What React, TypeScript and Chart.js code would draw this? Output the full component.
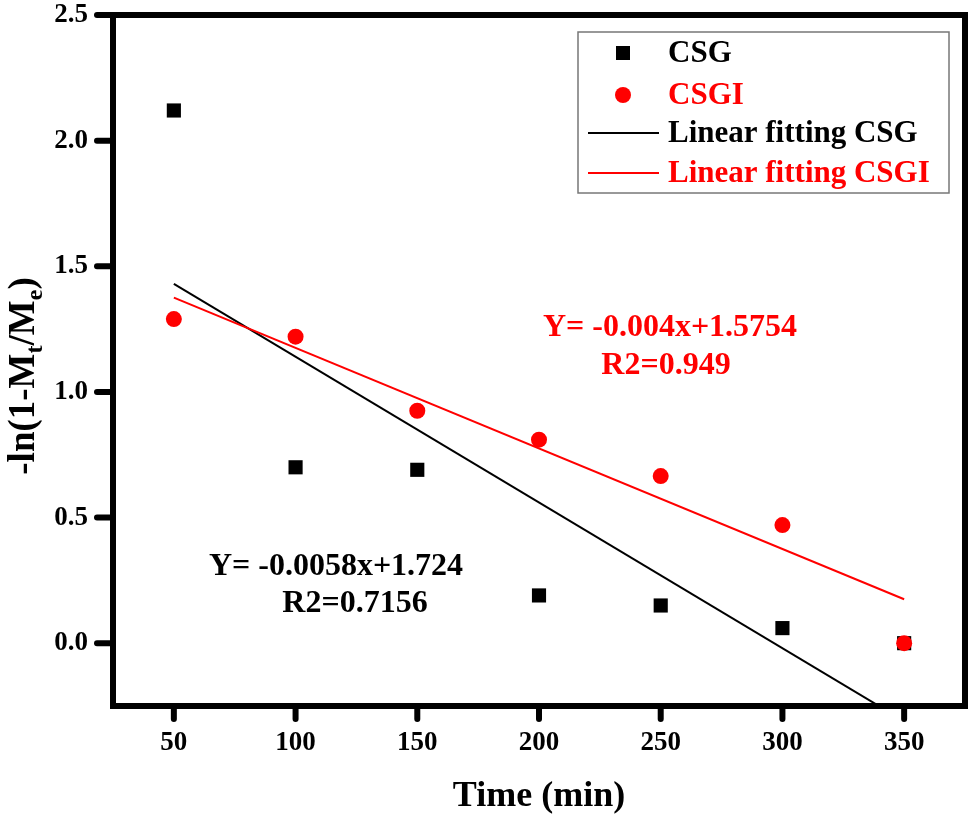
import { useEffect, useRef } from 'react';
import { Chart, registerables } from 'chart.js';

Chart.register(...registerables);

const times = [50, 100, 150, 200, 250, 300, 350];
const csg = [2.12, 0.7, 0.69, 0.19, 0.15, 0.06, 0.0];
const csgi = [1.29, 1.22, 0.925, 0.81, 0.665, 0.47, 0.0];

// fitted lines, end points
const fitTimes = [50, 350];
const fitCsg = [1.43, -0.31];
const fitCsgi = [1.375, 0.175];

const xTicks = [50, 100, 150, 200, 250, 300, 350];
const yTicks = [0, 0.5, 1, 1.5, 2, 2.5];

const csgNote = ['Y= -0.0058x+1.724', 'R2=0.7156'];
const csgiNote = ['Y= -0.004x+1.5754', 'R2=0.949'];

const FONT = '"Liberation Serif", "Times New Roman", serif';
const RED = '#ff0000';

const toPoints = (xs: number[], ys: number[]) => xs.map((x, i) => ({ x, y: ys[i] }));

const decorPlugin = {
  id: 'decor',
  afterDraw(chart: any) {
    const { ctx, chartArea: a, scales } = chart;
    ctx.save();

    // outward tick marks
    ctx.strokeStyle = '#000';
    ctx.lineWidth = 6;
    ctx.lineCap = 'round';
    xTicks.forEach((v) => {
      const x = scales.x.getPixelForValue(v);
      ctx.beginPath();
      ctx.moveTo(x, a.bottom);
      ctx.lineTo(x, a.bottom + 13);
      ctx.stroke();
    });
    yTicks.forEach((v) => {
      const y = scales.y.getPixelForValue(v);
      ctx.beginPath();
      ctx.moveTo(a.left, y);
      ctx.lineTo(a.left - 16, y);
      ctx.stroke();
    });
    ctx.lineCap = 'butt';

    // frame round the plot
    ctx.lineWidth = 6;
    ctx.strokeRect(a.left, a.top, a.right - a.left, a.bottom - a.top);

    // y axis title with subscripts
    ctx.save();
    ctx.translate(34, 376);
    ctx.rotate(-Math.PI / 2);
    ctx.fillStyle = '#000';
    ctx.textBaseline = 'alphabetic';
    ctx.textAlign = 'left';
    const parts: [string, number, number][] = [
      ['-ln(1-M', 0, 37],
      ['t', 8, 24],
      ['/M', 0, 37],
      ['e', 8, 24],
      [')', 0, 37],
    ];
    let total = 0;
    parts.forEach(([t, , s]) => {
      ctx.font = `bold ${s}px ${FONT}`;
      total += ctx.measureText(t).width;
    });
    let px = -total / 2;
    parts.forEach(([t, dy, s]) => {
      ctx.font = `bold ${s}px ${FONT}`;
      ctx.fillText(t, px, dy);
      px += ctx.measureText(t).width;
    });
    ctx.restore();

    // fit equations
    ctx.font = `bold 32px ${FONT}`;
    ctx.textAlign = 'center';
    ctx.textBaseline = 'middle';
    ctx.fillStyle = RED;
    ctx.fillText(csgiNote[0], 670, 328);
    ctx.fillText(csgiNote[1], 666, 366);
    ctx.fillStyle = '#000';
    ctx.fillText(csgNote[0], 336, 567);
    ctx.fillText(csgNote[1], 355, 604);

    // legend box
    ctx.strokeStyle = '#777';
    ctx.lineWidth = 1.5;
    ctx.strokeRect(578, 32, 371, 161);
    const rows = [53, 95, 133, 173];
    chart.data.datasets.forEach((ds: any, i: number) => {
      const y = rows[i];
      const color = ds.borderColor || ds.backgroundColor;
      if (ds.showLine) {
        ctx.strokeStyle = color;
        ctx.lineWidth = 2;
        ctx.beginPath();
        ctx.moveTo(588, y);
        ctx.lineTo(659, y);
        ctx.stroke();
      } else if (ds.pointStyle === 'rect') {
        ctx.fillStyle = ds.backgroundColor;
        ctx.fillRect(623 - 7, y - 7, 14, 14);
      } else {
        ctx.fillStyle = ds.backgroundColor;
        ctx.beginPath();
        ctx.arc(623, y, 8, 0, Math.PI * 2);
        ctx.fill();
      }
      ctx.fillStyle = color;
      ctx.font = `bold 31px ${FONT}`;
      ctx.textAlign = 'left';
      ctx.textBaseline = 'middle';
      ctx.fillText(ds.label, 668, y + 1);
    });

    ctx.restore();
  },
};

export default function App() {
  const canvasRef = useRef<HTMLCanvasElement | null>(null);
  const chartRef = useRef<Chart | null>(null);

  useEffect(() => {
    document.body.style.margin = '0';
    if (!canvasRef.current) return;
    if (chartRef.current) chartRef.current.destroy();

    const tickFont = { family: FONT, size: 27, weight: 'bold' as const, lineHeight: 1 };

    chartRef.current = new Chart(canvasRef.current, {
      type: 'scatter',
      data: {
        datasets: [
          {
            label: 'CSG',
            data: toPoints(times, csg),
            pointStyle: 'rect',
            pointRadius: 10,
            borderWidth: 0,
            backgroundColor: '#000',
            showLine: false,
            order: 2,
          },
          {
            label: 'CSGI',
            data: toPoints(times, csgi),
            pointStyle: 'circle',
            pointRadius: 8,
            borderWidth: 0,
            backgroundColor: RED,
            showLine: false,
            order: 1,
          },
          {
            label: 'Linear fitting CSG',
            data: toPoints(fitTimes, fitCsg),
            showLine: true,
            pointRadius: 0,
            borderColor: '#000',
            backgroundColor: '#000',
            borderWidth: 2,
            order: 4,
          },
          {
            label: 'Linear fitting CSGI',
            data: toPoints(fitTimes, fitCsgi),
            showLine: true,
            pointRadius: 0,
            borderColor: RED,
            backgroundColor: RED,
            borderWidth: 2,
            order: 3,
          },
        ],
      } as any,
      options: {
        responsive: false,
        animation: false,
        events: [],
        layout: { padding: { left: 0, right: 7, top: 15, bottom: 0 } },
        plugins: {
          legend: { display: false },
          tooltip: { enabled: false },
        },
        scales: {
          x: {
            type: 'linear',
            min: 25,
            max: 375,
            afterBuildTicks: (s: any) => {
              s.ticks = xTicks.map((v) => ({ value: v }));
            },
            afterFit: (s: any) => {
              s.height = 110;
              s.paddingLeft = 0;
              s.paddingRight = 0;
            },
            border: { display: false },
            grid: { display: false, drawTicks: false },
            ticks: {
              color: '#000',
              font: tickFont,
              padding: 24,
              maxRotation: 0,
            },
            title: {
              display: true,
              text: 'Time (min)',
              color: '#000',
              font: { family: FONT, size: 36, weight: 'bold', lineHeight: 1 },
              padding: { top: 0, bottom: 1 },
            },
          },
          y: {
            type: 'linear',
            min: -0.25,
            max: 2.5,
            afterBuildTicks: (s: any) => {
              s.ticks = yTicks.map((v) => ({ value: v }));
            },
            afterFit: (s: any) => {
              s.width = 113;
              s.paddingTop = 0;
              s.paddingBottom = 0;
            },
            border: { display: false },
            grid: { display: false, drawTicks: false },
            ticks: {
              color: '#000',
              font: tickFont,
              padding: 25,
              callback: (v: any) => Number(v).toFixed(1),
            },
          },
        },
      },
      plugins: [decorPlugin],
    });

    return () => {
      if (chartRef.current) {
        chartRef.current.destroy();
        chartRef.current = null;
      }
    };
  }, []);

  return (
    <div style={{ width: 975, height: 816, background: '#fff' }}>
      <canvas ref={canvasRef} width={975} height={816} />
    </div>
  );
}
